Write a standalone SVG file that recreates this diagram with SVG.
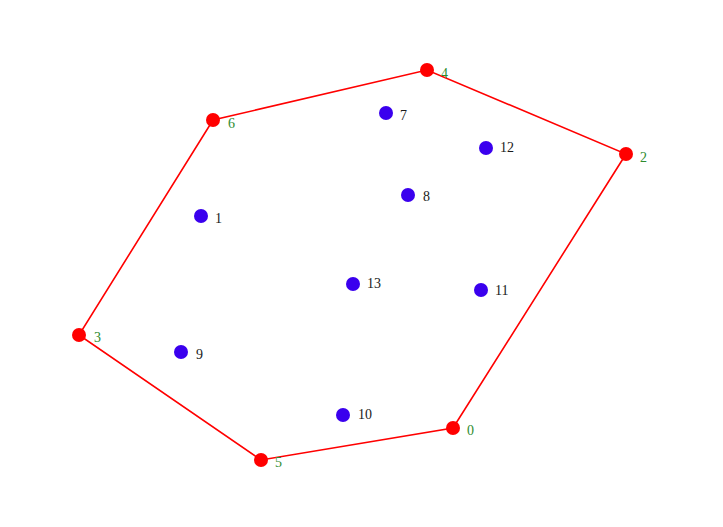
<svg xmlns="http://www.w3.org/2000/svg" width="723" height="527" viewBox="0 0 723 527">
<style>
.hull{fill:#ff0000}
.pt{fill:#3a00ee}
.lh{font-family:"Liberation Serif","DejaVu Serif",serif;font-size:14px;fill:#2e8b2e}
.lp{font-family:"Liberation Serif","DejaVu Serif",serif;font-size:14px;fill:#1a1a1a}
.edge{stroke:#ff0000;stroke-width:1.6;fill:none}
</style>
<rect width="723" height="527" fill="#ffffff"/>
<g id="connectors">
<polygon class="edge" points="453,428 626,154 427,70 213,120 79,335 261,460"/>
</g>
<g id="n0"><circle class="hull" cx="453" cy="428" r="7"/><text class="lh" x="467" y="435">0</text></g>
<g id="n1"><circle class="pt" cx="201" cy="216" r="7"/><text class="lp" x="215" y="223">1</text></g>
<g id="n2"><circle class="hull" cx="626" cy="154" r="7"/><text class="lh" x="640" y="162">2</text></g>
<g id="n3"><circle class="hull" cx="79" cy="335" r="7"/><text class="lh" x="94" y="342">3</text></g>
<g id="n4"><circle class="hull" cx="427" cy="70" r="7"/><text class="lh" x="441" y="78">4</text></g>
<g id="n5"><circle class="hull" cx="261" cy="460" r="7"/><text class="lh" x="275" y="467">5</text></g>
<g id="n6"><circle class="hull" cx="213" cy="120" r="7"/><text class="lh" x="228" y="128">6</text></g>
<g id="n7"><circle class="pt" cx="386" cy="113" r="7"/><text class="lp" x="400" y="120">7</text></g>
<g id="n8"><circle class="pt" cx="408" cy="195" r="7"/><text class="lp" x="423" y="201">8</text></g>
<g id="n9"><circle class="pt" cx="181" cy="352" r="7"/><text class="lp" x="196" y="359">9</text></g>
<g id="n10"><circle class="pt" cx="343" cy="415" r="7"/><text class="lp" x="358" y="419">10</text></g>
<g id="n11"><circle class="pt" cx="481" cy="290" r="7"/><text class="lp" x="495" y="295">11</text></g>
<g id="n12"><circle class="pt" cx="486" cy="148" r="7"/><text class="lp" x="500" y="152">12</text></g>
<g id="n13"><circle class="pt" cx="353" cy="284" r="7"/><text class="lp" x="367" y="288">13</text></g>
</svg>
